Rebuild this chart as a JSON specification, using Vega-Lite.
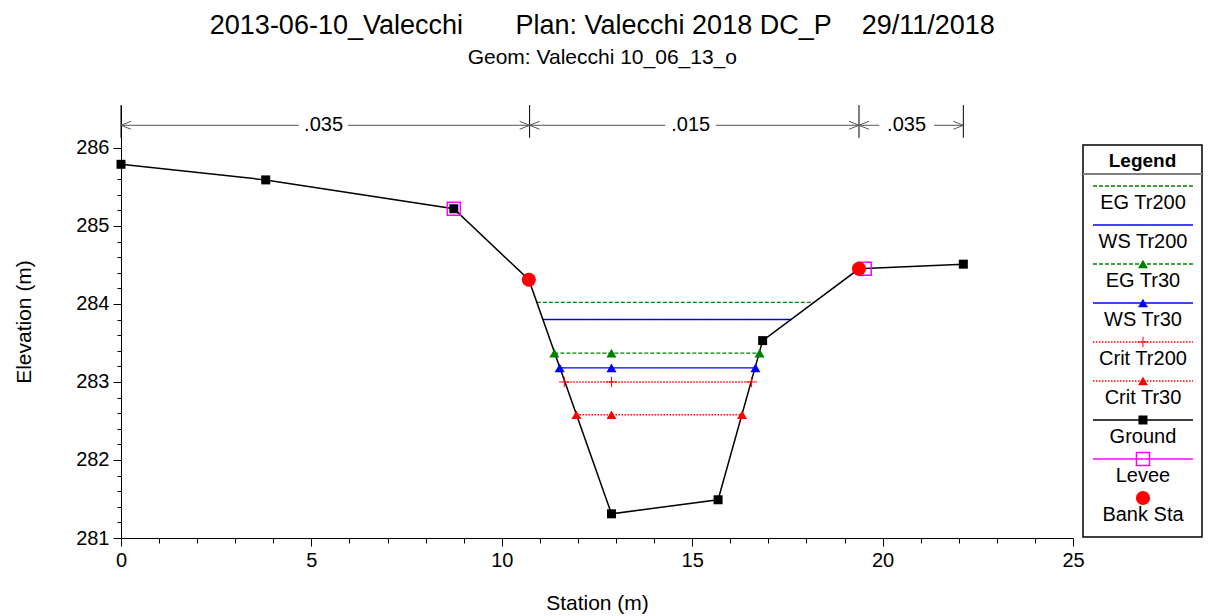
{
  "$schema": "https://vega.github.io/schema/vega-lite/v6.json",
  "background": "white",
  "padding": {"left": 13, "top": 11, "right": 5, "bottom": 2},
  "title": {
    "text": "2013-06-10_Valecchi\u00a0\u00a0\u00a0\u00a0\u00a0\u00a0\u00a0Plan: Valecchi 2018 DC_P\u00a0\u00a0\u00a0\u00a029/11/2018",
    "subtitle": "Geom: Valecchi 10_06_13_o",
    "anchor": "middle",
    "dx": -6,
    "font": "Liberation Sans",
    "fontSize": 27,
    "fontWeight": "normal",
    "color": "black",
    "subtitleFont": "Liberation Sans",
    "subtitleFontSize": 21,
    "subtitleColor": "black",
    "subtitlePadding": 7,
    "offset": 36
  },
  "spacing": 10,
  "bounds": "flush",
  "config": {
    "font": "Liberation Sans",
    "view": {"stroke": null},
    "axis": {
      "grid": false,
      "domainColor": "black",
      "tickColor": "black",
      "labelColor": "black",
      "titleColor": "black",
      "labelFont": "Liberation Sans",
      "titleFont": "Liberation Sans",
      "labelFontSize": 20,
      "titleFontSize": 21,
      "titleFontWeight": "normal",
      "labelOverlap": false,
      "labelFlush": false
    }
  },
  "datasets": {
    "ground": [
      {"sta": 0, "elev": 285.79},
      {"sta": 3.80, "elev": 285.59},
      {"sta": 8.74, "elev": 285.22},
      {"sta": 10.71, "elev": 284.31},
      {"sta": 12.88, "elev": 281.31},
      {"sta": 15.68, "elev": 281.49},
      {"sta": 16.85, "elev": 283.53},
      {"sta": 19.38, "elev": 284.45},
      {"sta": 22.12, "elev": 284.51}
    ],
    "ws": [
      {"name": "EG Tr200", "sta": 10.92, "sta2": 18.2, "elev": 284.02},
      {"name": "WS Tr200", "sta": 11.08, "sta2": 17.6, "elev": 283.80},
      {"name": "EG Tr30", "sta": 11.38, "sta2": 16.77, "elev": 283.37},
      {"name": "WS Tr30", "sta": 11.52, "sta2": 16.66, "elev": 283.18},
      {"name": "Crit Tr200", "sta": 11.64, "sta2": 16.56, "elev": 283.0},
      {"name": "Crit Tr30", "sta": 11.96, "sta2": 16.31, "elev": 282.58}
    ],
    "wsmarks": [
      {"name": "EG Tr30", "sta": 11.38, "elev": 283.37},
      {"name": "EG Tr30", "sta": 12.88, "elev": 283.37},
      {"name": "EG Tr30", "sta": 16.77, "elev": 283.37},
      {"name": "WS Tr30", "sta": 11.52, "elev": 283.18},
      {"name": "WS Tr30", "sta": 12.88, "elev": 283.18},
      {"name": "WS Tr30", "sta": 16.66, "elev": 283.18},
      {"name": "Crit Tr200", "sta": 11.64, "elev": 283.0},
      {"name": "Crit Tr200", "sta": 12.88, "elev": 283.0},
      {"name": "Crit Tr200", "sta": 16.56, "elev": 283.0},
      {"name": "Crit Tr30", "sta": 11.96, "elev": 282.58},
      {"name": "Crit Tr30", "sta": 12.88, "elev": 282.58},
      {"name": "Crit Tr30", "sta": 16.31, "elev": 282.58}
    ],
    "levee": [
      {"sta": 8.74, "elev": 285.22},
      {"sta": 19.53, "elev": 284.45}
    ],
    "bank": [
      {"sta": 10.71, "elev": 284.31},
      {"sta": 19.38, "elev": 284.45}
    ],
    "nbreaks": [{"sta": 0}, {"sta": 10.73}, {"sta": 19.38}, {"sta": 22.12}],
    "nsegs": [
      {"sta": 0, "sta2": 4.67},
      {"sta": 5.96, "sta2": 10.73},
      {"sta": 10.73, "sta2": 14.29},
      {"sta": 15.62, "sta2": 19.38},
      {"sta": 19.38, "sta2": 19.91},
      {"sta": 21.35, "sta2": 22.12}
    ],
    "narrows": [
      {"sta": 0, "dir": "L"},
      {"sta": 10.73, "dir": "R"},
      {"sta": 10.73, "dir": "L"},
      {"sta": 19.38, "dir": "R"},
      {"sta": 19.38, "dir": "L"},
      {"sta": 22.12, "dir": "R"}
    ],
    "nlabels": [
      {"sta": 5.32, "n": ".035"},
      {"sta": 14.96, "n": ".015"},
      {"sta": 20.63, "n": ".035"}
    ],
    "legend": [
      {"name": "EG Tr200", "i": 0},
      {"name": "WS Tr200", "i": 1},
      {"name": "EG Tr30", "i": 2},
      {"name": "WS Tr30", "i": 3},
      {"name": "Crit Tr200", "i": 4},
      {"name": "Crit Tr30", "i": 5},
      {"name": "Ground", "i": 6},
      {"name": "Levee", "i": 7},
      {"name": "Bank Sta", "i": 8}
    ]
  },
  "hconcat": [
    {
      "width": 952,
      "height": 433,
      "resolve": {"axis": {"x": "independent", "y": "independent"}},
      "layer": [
        {
          "data": {"name": "ground"},
          "mark": {"type": "point", "opacity": 0},
          "encoding": {
            "x": {
              "field": "sta", "type": "quantitative",
              "scale": {"domain": [0, 25], "nice": false, "zero": false},
              "axis": {
                "orient": "bottom",
                "title": "Station (m)",
                "values": [0, 5, 10, 15, 20, 25],
                "format": "d",
                "tickSize": 8,
                "labelPadding": 4,
                "titlePadding": 22
              }
            },
            "y": {
              "field": "elev", "type": "quantitative",
              "scale": {"domain": [281, 286.55], "nice": false, "zero": false},
              "axis": {
                "orient": "left",
                "title": "Elevation (m)",
                "values": [281, 282, 283, 284, 285, 286],
                "format": "d",
                "tickSize": 8,
                "labelPadding": 4,
                "titlePadding": 41
              }
            }
          }
        },
        {
          "data": {"name": "ground"},
          "mark": {"type": "point", "opacity": 0},
          "encoding": {
            "x": {
              "field": "sta", "type": "quantitative",
              "axis": {
                "orient": "bottom",
                "title": null,
                "values": [1,2,3,4,6,7,8,9,11,12,13,14,16,17,18,19,21,22,23,24],
                "labels": false,
                "domain": false,
                "tickSize": 5
              }
            },
            "y": {
              "field": "elev", "type": "quantitative",
              "axis": {
                "orient": "left",
                "title": null,
                "values": [281.2,281.4,281.6,281.8,282.2,282.4,282.6,282.8,283.2,283.4,283.6,283.8,284.2,284.4,284.6,284.8,285.2,285.4,285.6,285.8],
                "labels": false,
                "domain": false,
                "tickSize": 4
              }
            }
          }
        },
        {
          "data": {"name": "nbreaks"},
          "mark": {"type": "rule", "color": "black", "strokeWidth": 1},
          "encoding": {
            "x": {"field": "sta", "type": "quantitative", "axis": null},
            "y": {"datum": 286.13, "type": "quantitative", "axis": null},
            "y2": {"datum": 286.55}
          }
        },
        {
          "data": {"name": "nsegs"},
          "mark": {"type": "rule", "color": "#555555", "strokeWidth": 1},
          "encoding": {
            "x": {"field": "sta", "type": "quantitative", "axis": null},
            "x2": {"field": "sta2"},
            "y": {"datum": 286.29, "type": "quantitative", "axis": null}
          }
        },
        {
          "data": {"name": "narrows"},
          "mark": {"type": "point", "filled": false, "color": "#555555", "strokeWidth": 1, "size": 400, "opacity": 1},
          "encoding": {
            "x": {"field": "sta", "type": "quantitative", "axis": null},
            "y": {"datum": 286.29, "type": "quantitative", "axis": null},
            "shape": {
              "field": "dir", "type": "nominal", "legend": null,
              "scale": {"domain": ["L", "R"], "range": ["M1,-0.4L0,0L1,0.4", "M-1,-0.4L0,0L-1,0.4"]}
            }
          }
        },
        {
          "data": {"name": "nlabels"},
          "mark": {"type": "text", "fontSize": 20, "baseline": "middle", "align": "center", "color": "black"},
          "encoding": {
            "x": {"field": "sta", "type": "quantitative", "axis": null},
            "y": {"datum": 286.29, "type": "quantitative", "axis": null},
            "text": {"field": "n"}
          }
        },
        {
          "data": {"name": "ws"},
          "mark": {"type": "rule", "strokeWidth": 1.4},
          "encoding": {
            "x": {"field": "sta", "type": "quantitative", "axis": null},
            "x2": {"field": "sta2"},
            "y": {"field": "elev", "type": "quantitative", "axis": null},
            "color": {
              "field": "name", "type": "nominal", "legend": null,
              "scale": {"domain": ["EG Tr200","WS Tr200","EG Tr30","WS Tr30","Crit Tr200","Crit Tr30","Ground","Levee","Bank Sta"], "range": ["#008000","#0000ff","#008000","#0000ff","#ff0000","#ff0000","#000000","#ff00ff","#ff0000"]}
            },
            "strokeDash": {
              "field": "name", "type": "nominal", "legend": null,
              "scale": {"domain": ["EG Tr200","WS Tr200","EG Tr30","WS Tr30","Crit Tr200","Crit Tr30","Ground","Levee","Bank Sta"], "range": [[4,2],[1,0],[4,2],[1,0],[1.5,1.5],[1.5,1.5],[1,0],[1,0],[1,0]]}
            }
          }
        },
        {
          "data": {"name": "ground"},
          "mark": {"type": "line", "color": "black", "strokeWidth": 1.5, "point": {"shape": "square", "size": 81, "filled": true, "color": "black", "opacity": 1}},
          "encoding": {
            "x": {"field": "sta", "type": "quantitative", "axis": null},
            "y": {"field": "elev", "type": "quantitative", "axis": null}
          }
        },
        {
          "data": {"name": "wsmarks"},
          "transform": [{"filter": "datum.name !== 'Crit Tr200'"}],
          "mark": {"type": "point", "shape": "triangle-up", "filled": true, "size": 100, "opacity": 1},
          "encoding": {
            "x": {"field": "sta", "type": "quantitative", "axis": null},
            "y": {"field": "elev", "type": "quantitative", "axis": null},
            "color": {
              "field": "name", "type": "nominal", "legend": null,
              "scale": {"domain": ["EG Tr200","WS Tr200","EG Tr30","WS Tr30","Crit Tr200","Crit Tr30","Ground","Levee","Bank Sta"], "range": ["#008000","#0000ff","#008000","#0000ff","#ff0000","#ff0000","#000000","#ff00ff","#ff0000"]}
            }
          }
        },
        {
          "data": {"name": "wsmarks"},
          "transform": [{"filter": "datum.name === 'Crit Tr200'"}],
          "mark": {"type": "point", "shape": "M-1,0L1,0M0,-1L0,1", "filled": false, "size": 110, "color": "#ff0000", "strokeWidth": 1, "opacity": 1},
          "encoding": {
            "x": {"field": "sta", "type": "quantitative", "axis": null},
            "y": {"field": "elev", "type": "quantitative", "axis": null}
          }
        },
        {
          "data": {"name": "levee"},
          "mark": {"type": "point", "shape": "square", "filled": false, "size": 170, "color": "#ff00ff", "strokeWidth": 1.5, "opacity": 1},
          "encoding": {
            "x": {"field": "sta", "type": "quantitative", "axis": null},
            "y": {"field": "elev", "type": "quantitative", "axis": null}
          }
        },
        {
          "data": {"name": "bank"},
          "mark": {"type": "point", "shape": "circle", "filled": true, "size": 200, "color": "#ff0000", "opacity": 1},
          "encoding": {
            "x": {"field": "sta", "type": "quantitative", "axis": null},
            "y": {"field": "elev", "type": "quantitative", "axis": null}
          }
        }
      ]
    },
    {
      "width": 119,
      "height": 433,
      "layer": [
        {
          "data": {"values": [{"k": 1}]},
          "mark": {"type": "rect", "fill": "white", "stroke": "black", "strokeWidth": 1.5},
          "encoding": {
            "x": {"datum": 0, "type": "quantitative", "scale": {"domain": [0, 1], "nice": false, "zero": false}, "axis": null},
            "x2": {"datum": 1},
            "y": {"datum": -1.05, "type": "quantitative", "scale": {"domain": [-2.077, 9.026], "reverse": true, "nice": false, "zero": false}, "axis": null},
            "y2": {"datum": 9.0}
          }
        },
        {
          "data": {"values": [{"t": "Legend"}]},
          "mark": {"type": "text", "fontSize": 19, "fontWeight": "bold", "baseline": "middle", "align": "center", "color": "black"},
          "encoding": {
            "x": {"datum": 0.5, "type": "quantitative", "axis": null},
            "y": {"datum": -0.64, "type": "quantitative", "axis": null},
            "text": {"field": "t"}
          }
        },
        {
          "data": {"values": [{"k": 1}]},
          "mark": {"type": "rule", "color": "#808080", "strokeWidth": 2},
          "encoding": {
            "x": {"datum": 0, "type": "quantitative", "axis": null},
            "x2": {"datum": 1},
            "y": {"datum": -0.31, "type": "quantitative", "axis": null}
          }
        },
        {
          "data": {"name": "legend"},
          "transform": [{"filter": "datum.name !== 'Bank Sta'"}],
          "mark": {"type": "rule", "strokeWidth": 1.4},
          "encoding": {
            "x": {"datum": 0.084, "type": "quantitative", "axis": null},
            "x2": {"datum": 0.924},
            "y": {"field": "i", "type": "quantitative", "axis": null},
            "color": {
              "field": "name", "type": "nominal", "legend": null,
              "scale": {"domain": ["EG Tr200","WS Tr200","EG Tr30","WS Tr30","Crit Tr200","Crit Tr30","Ground","Levee","Bank Sta"], "range": ["#008000","#0000ff","#008000","#0000ff","#ff0000","#ff0000","#000000","#ff00ff","#ff0000"]}
            },
            "strokeDash": {
              "field": "name", "type": "nominal", "legend": null,
              "scale": {"domain": ["EG Tr200","WS Tr200","EG Tr30","WS Tr30","Crit Tr200","Crit Tr30","Ground","Levee","Bank Sta"], "range": [[4,2],[1,0],[4,2],[1,0],[1.5,1.5],[1.5,1.5],[1,0],[1,0],[1,0]]}
            }
          }
        },
        {
          "data": {"name": "legend"},
          "transform": [{"filter": "datum.name === 'EG Tr30' || datum.name === 'WS Tr30' || datum.name === 'Crit Tr30'"}],
          "mark": {"type": "point", "shape": "triangle-up", "filled": true, "size": 100, "opacity": 1},
          "encoding": {
            "x": {"datum": 0.504, "type": "quantitative", "axis": null},
            "y": {"field": "i", "type": "quantitative", "axis": null},
            "color": {
              "field": "name", "type": "nominal", "legend": null,
              "scale": {"domain": ["EG Tr200","WS Tr200","EG Tr30","WS Tr30","Crit Tr200","Crit Tr30","Ground","Levee","Bank Sta"], "range": ["#008000","#0000ff","#008000","#0000ff","#ff0000","#ff0000","#000000","#ff00ff","#ff0000"]}
            }
          }
        },
        {
          "data": {"name": "legend"},
          "transform": [{"filter": "datum.name === 'Crit Tr200'"}],
          "mark": {"type": "point", "shape": "M-1,0L1,0M0,-1L0,1", "filled": false, "size": 110, "color": "#ff0000", "strokeWidth": 1, "opacity": 1},
          "encoding": {
            "x": {"datum": 0.504, "type": "quantitative", "axis": null},
            "y": {"field": "i", "type": "quantitative", "axis": null}
          }
        },
        {
          "data": {"name": "legend"},
          "transform": [{"filter": "datum.name === 'Ground'"}],
          "mark": {"type": "point", "shape": "square", "filled": true, "size": 81, "color": "black", "opacity": 1},
          "encoding": {
            "x": {"datum": 0.504, "type": "quantitative", "axis": null},
            "y": {"field": "i", "type": "quantitative", "axis": null}
          }
        },
        {
          "data": {"name": "legend"},
          "transform": [{"filter": "datum.name === 'Levee'"}],
          "mark": {"type": "point", "shape": "square", "filled": false, "size": 170, "color": "#ff00ff", "strokeWidth": 1.5, "opacity": 1},
          "encoding": {
            "x": {"datum": 0.504, "type": "quantitative", "axis": null},
            "y": {"field": "i", "type": "quantitative", "axis": null}
          }
        },
        {
          "data": {"name": "legend"},
          "transform": [{"filter": "datum.name === 'Bank Sta'"}],
          "mark": {"type": "point", "shape": "circle", "filled": true, "size": 200, "color": "#ff0000", "opacity": 1},
          "encoding": {
            "x": {"datum": 0.504, "type": "quantitative", "axis": null},
            "y": {"field": "i", "type": "quantitative", "axis": null}
          }
        },
        {
          "data": {"name": "legend"},
          "mark": {"type": "text", "fontSize": 20, "baseline": "middle", "align": "center", "dy": 17, "color": "black"},
          "encoding": {
            "x": {"datum": 0.504, "type": "quantitative", "axis": null},
            "y": {"field": "i", "type": "quantitative", "axis": null},
            "text": {"field": "name"}
          }
        }
      ]
    }
  ]
}
